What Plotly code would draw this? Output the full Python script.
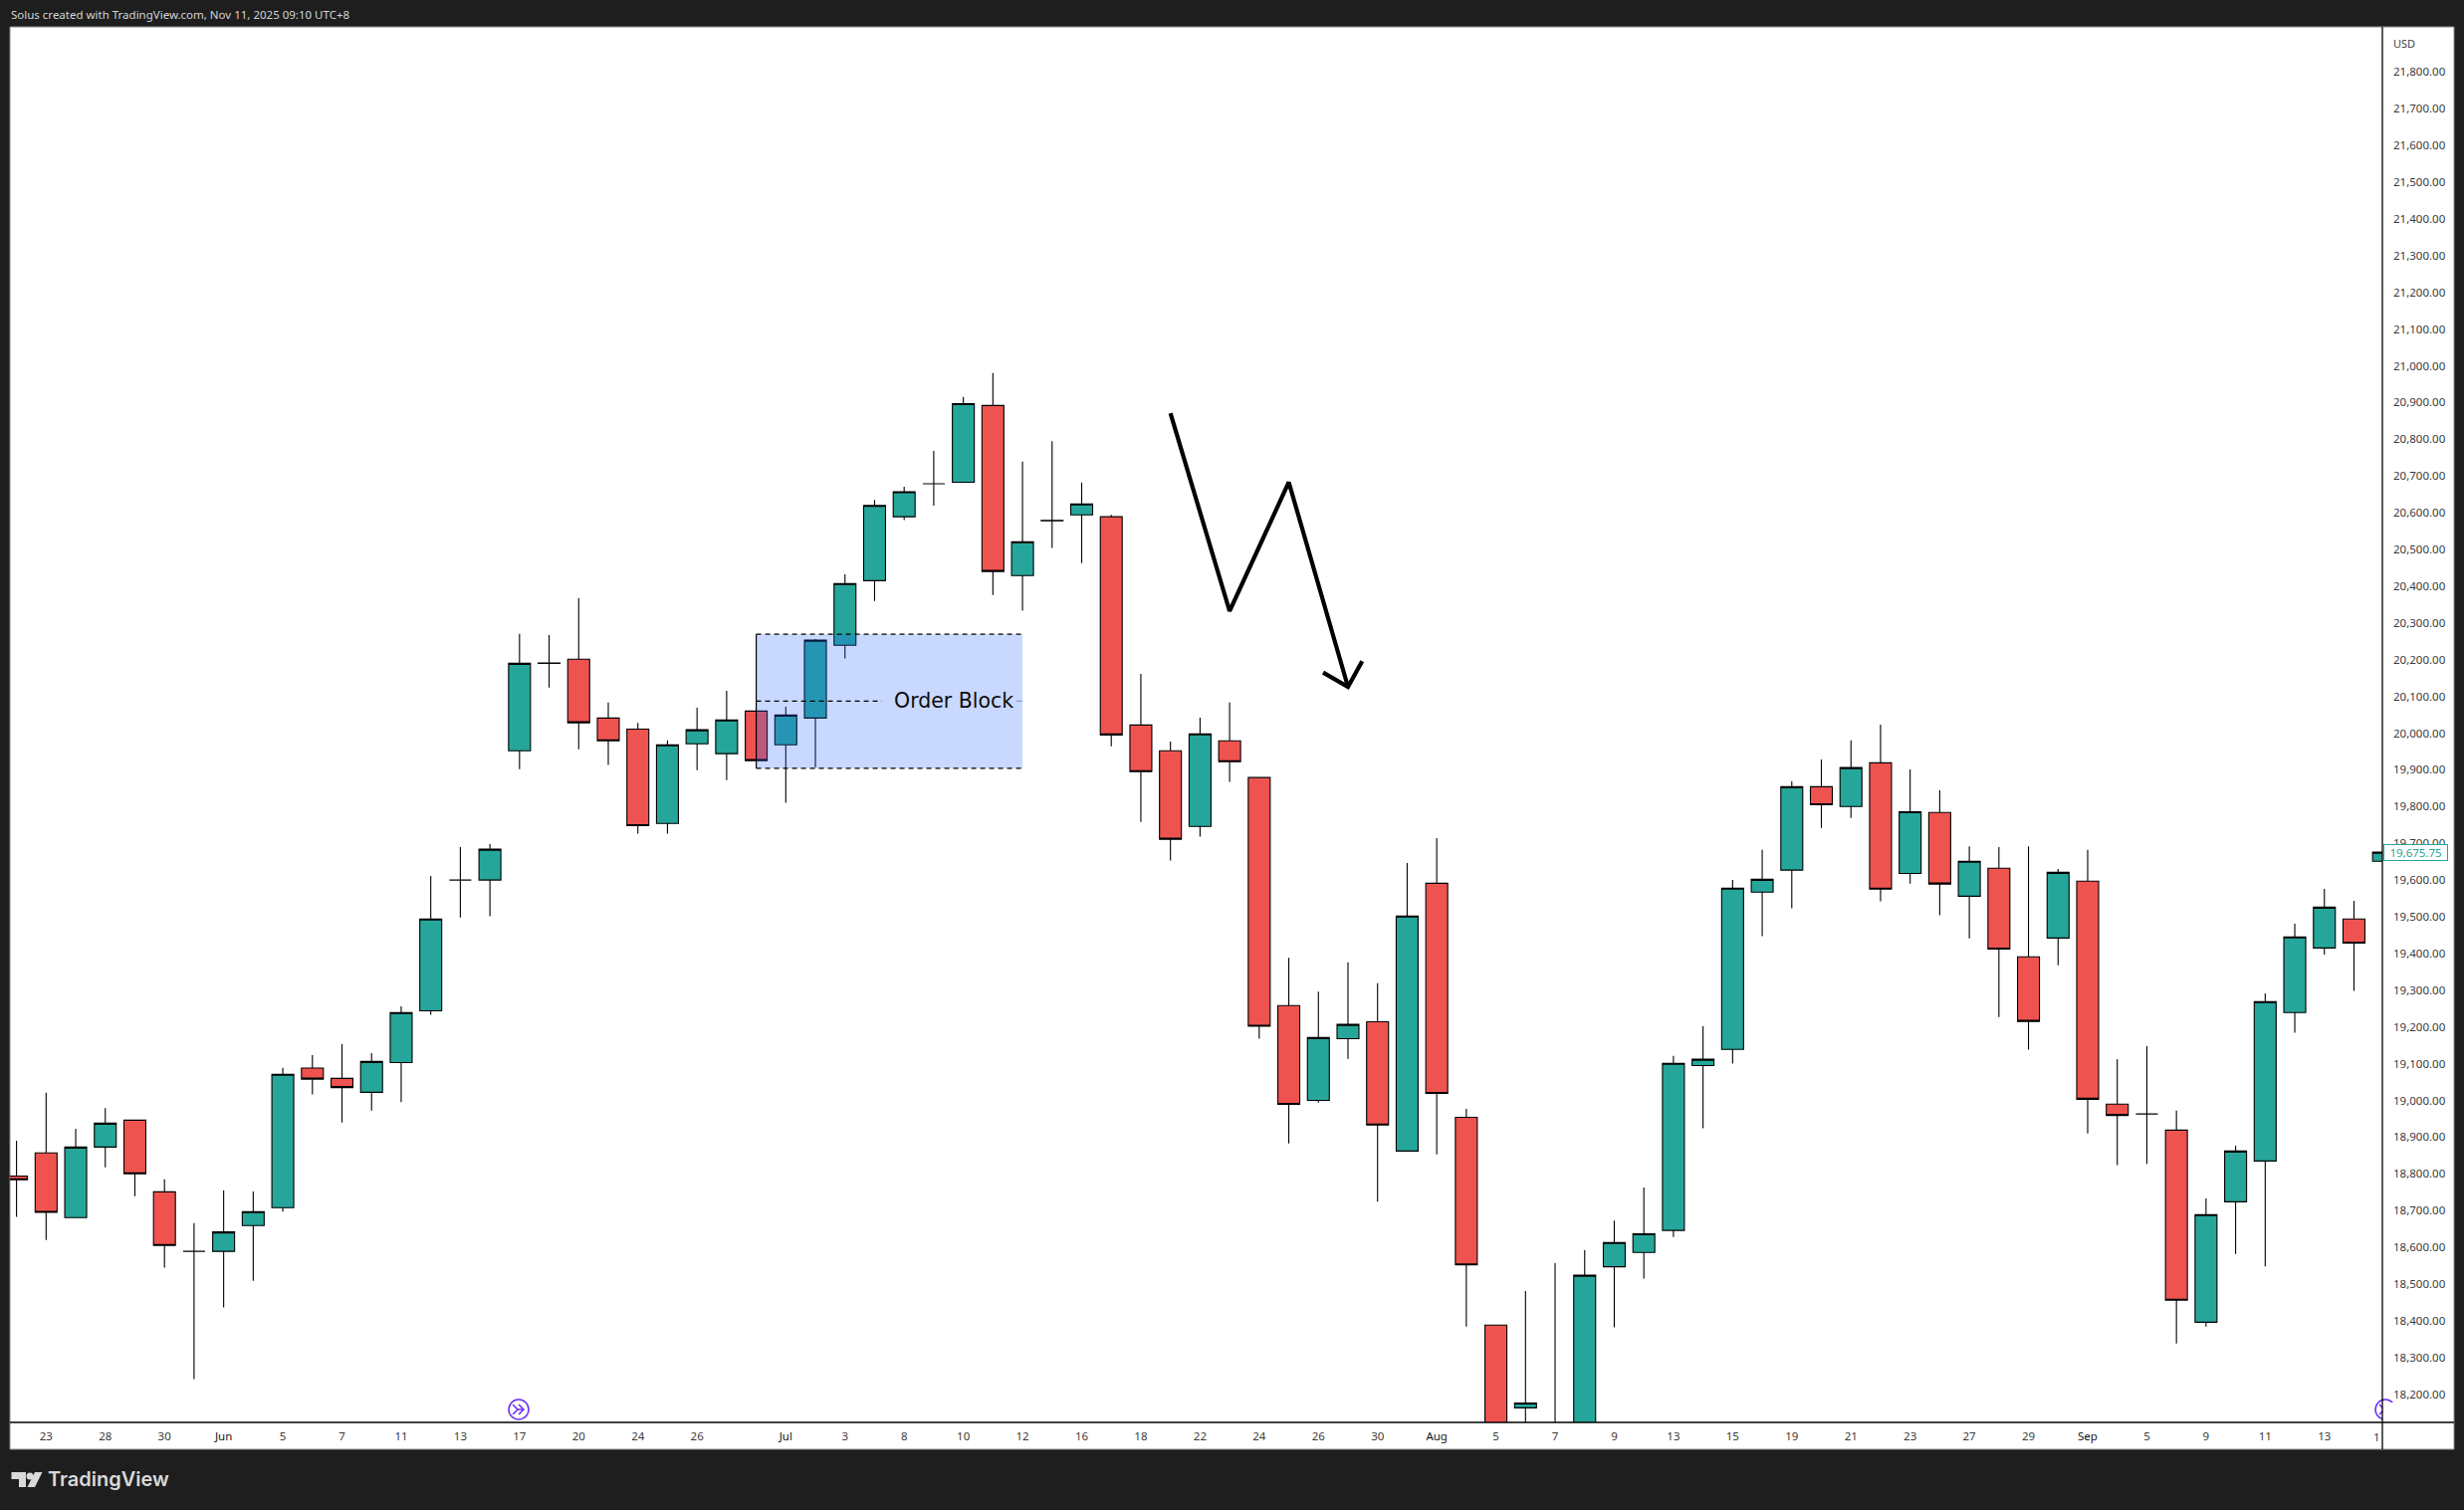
# plot.py
import plotly.graph_objects as go

WIDTH, HEIGHT = 2475, 1517
PLOT_L, PLOT_R, PLOT_T, PLOT_B = 10, 2393, 27, 1429

# daily candles (bars 50-53 run below the visible range)
highs = [18890, 19021, 18923, 18979, 18946, 18785, 18666, 18755, 18752, 19089,
         19123, 19153, 19129, 19256, 19611, 19690, 19698, 20270, 20267, 20367,
         20083, 20028, 19980, 20069, 20115, 20060, 20072, 20256, 20432, 20635,
         20671, 20768, 20915, 20980, 20739, 20795, 20682, 20594, 20161, 19977,
         20042, 20083, 19879, 19388, 19296, 19376, 19319, 19646, 19714, 18977,
         18388, 18481, 18557, 18592, 18673, 18763, 19121, 19202, 19600, 19682,
         19869, 19928, 19980, 20023, 19901, 19844, 19692, 19690, 19692, 19630,
         19682, 19112, 19148, 18972, 18733, 18877, 19291, 19481, 19576, 19543,
         19676]
lows = [18683, 18620, 18681, 18818, 18739, 18545, 18241, 18436, 18509, 18697,
        19016, 18940, 18972, 18995, 19233, 19498, 19501, 19902, 20124, 19956,
        19913, 19726, 19726, 19899, 19872, 19925, 19810, 19907, 20203, 20360,
        20580, 20619, 20683, 20376, 20333, 20504, 20463, 19964, 19758, 19653,
        19718, 19867, 19168, 18883, 18994, 19113, 18724, 18862, 18853, 18384,
        17950, 18060, 17960, 18000, 18382, 18515, 18628, 18924, 19100, 19447,
        19523, 19742, 19769, 19542, 19590, 19504, 19441, 19227, 19138, 19368,
        18910, 18824, 18827, 18338, 18384, 18582, 18548, 19184, 19397, 19298,
        19651]
opens = [18794, 18857, 18681, 18873, 18946, 18751, 18589, 18589, 18659, 18708,
         19088, 19060, 19022, 19103, 19244, 19600, 19600, 19952, 20190, 20201,
         20041, 20011, 19754, 19971, 19944, 20060, 19968, 20041, 20239, 20415,
         20589, 20679, 20683, 20892, 20429, 20578, 20594, 20589, 20022, 19952,
         19746, 19979, 19879, 19258, 19000, 19168, 19214, 18862, 19591, 18954,
         18388, 18163, 18010, 18020, 18547, 18586, 18646, 19095, 19139, 19567,
         19627, 19854, 19800, 19919, 19618, 19784, 19556, 19632, 19391, 19442,
         19597, 18990, 18963, 18919, 18396, 18724, 18835, 19239, 19415, 19494,
         19651]
closes = [18784, 18695, 18873, 18938, 18800, 18605, 18589, 18642, 18697, 19071,
          19058, 19035, 19106, 19239, 19494, 19600, 19684, 20190, 20191, 20028,
          19979, 19748, 19968, 20009, 20036, 19925, 20049, 20253, 20407, 20620,
          20657, 20679, 20897, 20440, 20521, 20579, 20624, 19995, 19895, 19711,
          19998, 19922, 19202, 18989, 19171, 19207, 18933, 19502, 19019, 18552,
          17990, 18176, 18060, 18524, 18613, 18637, 19101, 19112, 19578, 19602,
          19854, 19805, 19906, 19575, 19786, 19589, 19651, 19412, 19215, 19621,
          19003, 18959, 18963, 18456, 18689, 18862, 19269, 19445, 19526, 19428,
          19675.75]
bars = list(range(len(closes)))

tick_bars = [1, 3, 5, 7, 9, 11, 13, 15, 17, 19, 21, 23, 26, 28, 30, 32, 34, 36, 38,
             40, 42, 44, 46, 48, 50, 52, 54, 56, 58, 60, 62, 64, 66, 68, 70, 72, 74,
             76, 78]
tick_labels = ["23", "28", "30", "Jun", "5", "7", "11", "13", "17", "20", "24", "26",
               "Jul", "3", "8", "10", "12", "16", "18", "22", "24", "26", "30", "Aug",
               "5", "7", "9", "13", "15", "19", "21", "23", "27", "29", "Sep", "5",
               "9", "11", "13"]
months = ["Jun", "Jul", "Aug", "Sep"]
price_ticks = list(range(18200, 21900, 100))

# drawings on the chart, in bar / price units
ob_bars = [25, 34]
ob_prices = [19904, 20269]
ob_mid = 20087
ob_mid_end = 29.25
ob_mid_tail = 33.8
zigzag_x = [39, 41, 43, 45, None, 44.16, 45, 45.48]
zigzag_y = [20871, 20332, 20683, 20126, None, 20165, 20126, 20196]
last_price = 19675.75

GREEN, RED = "#26a69a", "#ef5350"
DARK = "#1e1e1e"
FONT = "Noto Sans"


def px(x):
    return (x - PLOT_L) / (PLOT_R - PLOT_L)


def py(y):
    return (PLOT_B - y) / (PLOT_B - PLOT_T)


def pixel_path(points, close=False):
    s = "M" + " L".join(f"{px(x):.6f},{py(y):.6f}" for x, y in points)
    return s + " Z" if close else s


def jump_icon(cx, cy):
    # the little "jump to real-time" circle
    c = "#6a2cf5"
    out = [dict(type="circle", xref="paper", yref="paper", x0=px(cx - 10), x1=px(cx + 10),
                y0=py(cy + 10), y1=py(cy - 10), line=dict(color=c, width=1.5), layer="above")]
    for pts in ([(cx - 6, cy - 5), (cx - 1, cy), (cx - 6, cy + 5)],
                [(cx, cy - 5), (cx + 5, cy), (cx, cy + 5)],
                [(cx - 2, cy), (cx + 5, cy)]):
        out.append(dict(type="path", xref="paper", yref="paper", path=pixel_path(pts),
                        line=dict(color=c, width=1.5), layer="above"))
    return out


fig = go.Figure()
fig.add_trace(go.Candlestick(
    x=bars, open=opens, high=highs, low=lows, close=closes,
    increasing=dict(fillcolor=GREEN, line=dict(color="#000000", width=1.1)),
    decreasing=dict(fillcolor=RED, line=dict(color="#000000", width=1.1)),
    whiskerwidth=0, showlegend=False, hoverinfo="skip",
))
fig.add_trace(go.Scatter(x=zigzag_x, y=zigzag_y, mode="lines", showlegend=False,
                         hoverinfo="skip", line=dict(color="#000000", width=4.2)))

dash = dict(color="#000000", width=1.2, dash="5px,4px")
shapes = [
    # white chart panel incl. the axis strips
    dict(type="rect", xref="paper", yref="paper", x0=px(PLOT_L), x1=px(2465), y0=py(1456), y1=py(PLOT_T),
         fillcolor="#ffffff", line=dict(color="#8a8a8a", width=1), layer="below"),
    # order block
    dict(type="rect", xref="x", yref="y", x0=ob_bars[0], x1=ob_bars[1], y0=ob_prices[0], y1=ob_prices[1],
         fillcolor="rgba(41,98,255,0.25)", line=dict(width=0), layer="above"),
    dict(type="line", xref="x", yref="y", x0=ob_bars[0], x1=ob_bars[1], y0=ob_prices[1], y1=ob_prices[1],
         line=dash, layer="above"),
    dict(type="line", xref="x", yref="y", x0=ob_bars[0], x1=ob_bars[1], y0=ob_prices[0], y1=ob_prices[0],
         line=dash, layer="above"),
    dict(type="line", xref="x", yref="y", x0=ob_bars[0], x1=ob_bars[0], y0=ob_prices[0], y1=ob_prices[1],
         line=dict(color="#000000", width=1.2), layer="above"),
    dict(type="line", xref="x", yref="y", x0=ob_bars[0], x1=ob_mid_end, y0=ob_mid, y1=ob_mid,
         line=dash, layer="above"),
    dict(type="line", xref="x", yref="y", x0=ob_mid_tail, x1=ob_bars[1], y0=ob_mid, y1=ob_mid,
         line=dict(color="#7d8fc4", width=1), layer="above"),
]
shapes += jump_icon(521, 1416)
shapes += jump_icon(2396, 1416)
shapes += [
    # hide what runs past the price scale
    dict(type="rect", xref="paper", yref="paper", x0=px(2393.5), x1=px(2408), y0=py(1428), y1=py(1409),
         fillcolor="#ffffff", line=dict(width=0), layer="above"),
    # axis lines
    dict(type="line", xref="paper", yref="paper", x0=px(PLOT_L), x1=px(2465), y0=py(PLOT_B), y1=py(PLOT_B),
         line=dict(color="#000000", width=1.3), layer="above"),
    dict(type="line", xref="paper", yref="paper", x0=px(PLOT_R), x1=px(PLOT_R), y0=py(1456), y1=py(PLOT_T),
         line=dict(color="#000000", width=1.3), layer="above"),
    # TradingView mark
    dict(type="path", xref="paper", yref="paper", layer="above", fillcolor="#d9d9d9", line=dict(width=0),
         path=pixel_path([(11.5, 1479), (26, 1479), (26, 1494), (19, 1494), (19, 1486), (11.5, 1486)], True)),
    dict(type="circle", xref="paper", yref="paper", layer="above", fillcolor="#d9d9d9", line=dict(width=0),
         x0=px(26.5), x1=px(33.5), y0=py(1486.5), y1=py(1479.5)),
    dict(type="path", xref="paper", yref="paper", layer="above", fillcolor="#d9d9d9", line=dict(width=0),
         path=pixel_path([(35, 1479), (42.5, 1479), (35, 1494), (27.5, 1494)], True)),
]

annotations = [
    dict(xref="paper", yref="paper", x=px(9), y=py(14.5), xanchor="left", yanchor="middle", showarrow=False,
         text="Solus created with TradingView.com, Nov 11, 2025 09:10 UTC+8",
         font=dict(family=FONT, size=11.5, color="#d4d4d4")),
    dict(xref="paper", yref="paper", x=px(2415), y=py(44), xanchor="center", yanchor="middle", showarrow=False,
         text="USD", font=dict(family=FONT, size=11, color="#444444")),
    dict(xref="paper", yref="paper", x=px(896), y=py(703.5), xanchor="left", yanchor="middle", showarrow=False,
         text="Order Block", font=dict(family="DejaVu Sans", size=20.5, color="#0d0d0d")),
    dict(xref="paper", yref="y", x=px(2394), y=last_price, xanchor="left", yanchor="middle", showarrow=False,
         text=f"{last_price:,.2f}", font=dict(family=FONT, size=11.5, color=GREEN),
         bgcolor="#ffffff", bordercolor=GREEN, borderwidth=1, borderpad=0, width=63, height=15),
    dict(xref="paper", yref="paper", x=px(46), y=py(1486), xanchor="left", yanchor="middle", showarrow=False,
         text="TradingView", font=dict(family="Inter", size=20, color="#d9d9d9", weight=600)),
    # last date label, cut off by the price scale in the original
    dict(xref="paper", yref="paper", x=px(2392), y=py(1443), xanchor="right", yanchor="middle", showarrow=False,
         borderpad=0, text="1", font=dict(family=FONT, size=11.5, color="#3a3a3a")),
]

tick_text = [f'<span style="color:#131722">{t}</span>' if t in months else t for t in tick_labels]

fig.update_layout(
    width=WIDTH, height=HEIGHT, autosize=False,
    margin=dict(l=PLOT_L, r=WIDTH - PLOT_R, t=PLOT_T, b=HEIGHT - PLOT_B, pad=0),
    paper_bgcolor=DARK, plot_bgcolor="#ffffff",
    boxgap=0.26, boxgroupgap=0, showlegend=False,
    shapes=shapes, annotations=annotations,
    font=dict(family=FONT, size=11.5, color="#333333"),
    xaxis=dict(range=[-0.222, 79.96], rangeslider=dict(visible=False), showgrid=False, zeroline=False,
               showline=False, tickmode="array", tickvals=tick_bars, ticktext=tick_text,
               ticks="", ticklabelstandoff=5, tickangle=0, tickfont=dict(family=FONT, size=11.5, color="#3a3a3a")),
    yaxis=dict(range=[18123.3, 21922.7], side="right", showgrid=False, zeroline=False, showline=False,
               tickmode="array", tickvals=price_ticks, tickformat=",.2f",
               ticks="", ticklabelstandoff=10, tickfont=dict(family=FONT, size=11.5, color="#3a3a3a")),
)

# page margin would push the whole figure off by 8px
fig.write_html("out.html", config=dict(displayModeBar=False),
               post_script="document.body.style.margin='0';document.body.style.background='#1e1e1e';")
